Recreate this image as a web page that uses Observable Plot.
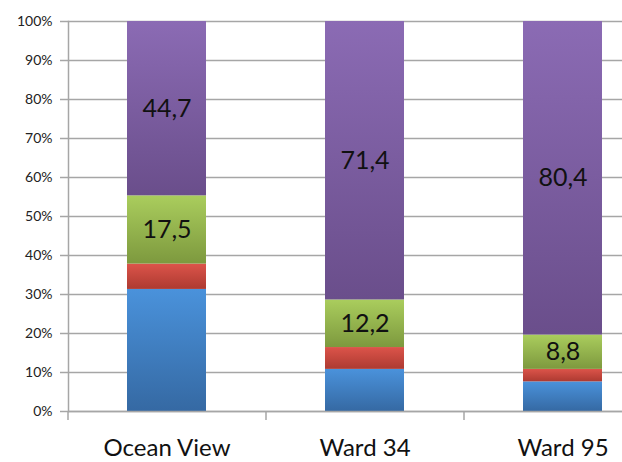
<!DOCTYPE html>
<html>
<head>
<meta charset="utf-8">
<script src="https://cdn.jsdelivr.net/npm/d3@7"></script>
<script src="https://cdn.jsdelivr.net/npm/@observablehq/plot@0.6"></script>
<style>
  html, body { margin: 0; padding: 0; background: #fff; overflow: hidden; }
  #chart svg { display: block; }
</style>
</head>
<body>
<div id="chart"></div>
<script>
const sites = ["Ocean View", "Ward 34", "Ward 95"];
const series = ["Series 1", "Series 2", "Series 3", "Series 4"];
const series1 = [31.3, 10.8, 7.6];   // blue
const series2 = [6.5, 5.6, 3.2];     // red
const series3 = [17.5, 12.2, 8.8];   // green
const series4 = [44.7, 71.4, 80.4];  // purple
const labelled = ["Series 3", "Series 4"];
const yTicks = [0, 10, 20, 30, 40, 50, 60, 70, 80, 90, 100];

const gradients = [
  {id: "g1", top: "#4a92db", bottom: "#3569a3"},
  {id: "g2", top: "#dc544a", bottom: "#ad3a31"},
  {id: "g3", top: "#aacd5d", bottom: "#7d993e"},
  {id: "g4", top: "#8b6bb4", bottom: "#6a4e8b"}
];

const valuesBySeries = [series1, series2, series3, series4];
const data = [];
series.forEach((s, i) => sites.forEach((site, j) => data.push({site, series: s, value: valuesBySeries[i][j]})));

const fmt = v => v.toFixed(1).replace(".", ",");
const font = "Lato, 'Open Sans', sans-serif";

const chart = Plot.plot({
  width: 622,
  height: 462,
  marginLeft: 68,
  marginRight: -40,
  marginTop: 21,
  marginBottom: 51,
  style: {fontFamily: font, background: "#fff", color: "#222", overflow: "hidden"},
  x: {domain: sites, paddingInner: 0.6, paddingOuter: 0.3, label: null},
  y: {domain: [0, 100], label: null},
  color: {domain: series, range: gradients.map(g => `url(#${g.id})`)},
  marks: [
    () => {
      const defs = d3.create("svg:defs");
      for (const g of gradients) {
        const lg = defs.append("linearGradient").attr("id", g.id).attr("x1", 0).attr("y1", 0).attr("x2", 0).attr("y2", 1);
        lg.append("stop").attr("offset", "0%").attr("stop-color", g.top);
        lg.append("stop").attr("offset", "100%").attr("stop-color", g.bottom);
      }
      return defs.node();
    },
    Plot.gridY(yTicks, {stroke: "#a6a6a6", strokeOpacity: 1, strokeWidth: 1.5}),
    Plot.frame({anchor: "left", stroke: "#a6a6a6", strokeWidth: 1.5}),
    Plot.axisY(yTicks, {tickSize: 8, tickPadding: 8, stroke: "#a6a6a6", strokeWidth: 1.5, fontSize: 14, fill: "#222", label: null, tickFormat: d => d + "%"}),
    Plot.barY(data, {x: "site", y: "value", fill: "series", z: "series", order: series}),
    Plot.ruleY([0], {stroke: "#a6a6a6", strokeWidth: 1.5}),
    Plot.axisX({tickSize: 9, dx: -99, text: null, label: null, stroke: "#a6a6a6", strokeWidth: 1.5}),
    Plot.axisX({tickSize: 0, tickPadding: 27, fontSize: 24, fill: "#111", label: null}),
    Plot.text(data, Plot.stackY({
      x: "site", y: "value", z: "series", order: series,
      text: d => labelled.includes(d.series) ? fmt(d.value) : "",
      fontSize: 25, fill: "#111"
    }))
  ]
});
document.getElementById("chart").append(chart);
</script>
</body>
</html>
